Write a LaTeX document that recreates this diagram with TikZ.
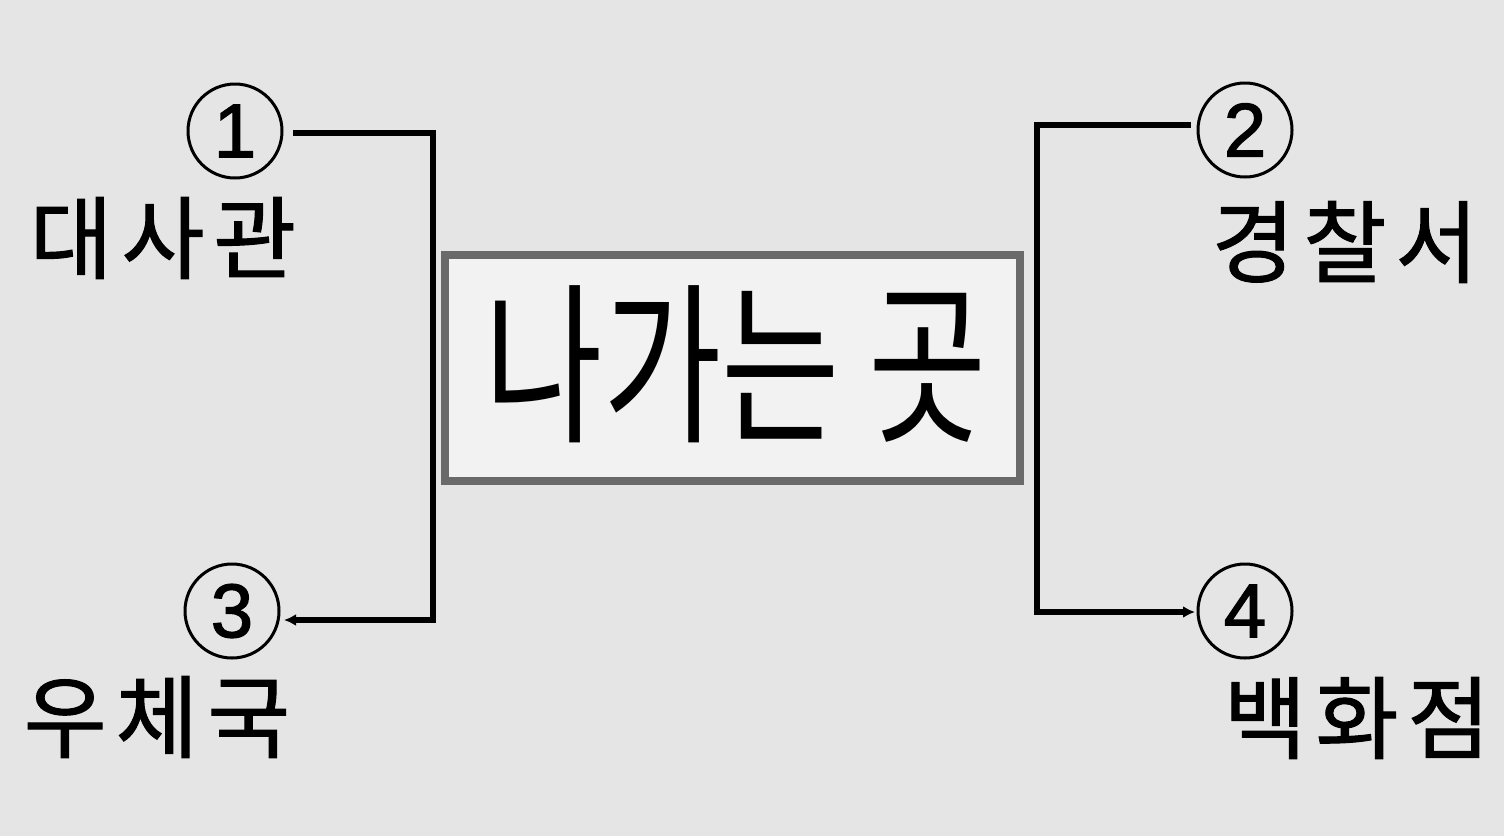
\documentclass[tikz,border=0pt]{standalone}
\usepackage{fontspec}
\newfontfamily\kr{Noto Sans CJK KR}
\newfontfamily\krlab{Noto Sans CJK KR}[LetterSpace=10,FakeBold=1.2]
\newfontfamily\num{Liberation Sans}[FakeBold=1.8]
\usetikzlibrary{arrows.meta}
\definecolor{bg}{HTML}{E5E5E5}
\definecolor{boxfill}{HTML}{F2F2F2}
\definecolor{boxline}{HTML}{6A6A6A}
\tikzset{
  numc/.style={circle,draw=black,line width=3pt,minimum size=94pt,inner sep=0pt,font=\num\fontsize{76}{80}\selectfont},
  lab/.style={inner sep=0pt,font=\krlab\fontsize{90}{100}\selectfont},
  conn/.style={line width=6.5pt,black,line cap=rect},
  tip/.style={-{Latex[length=12pt,width=12pt]}}
}
\begin{document}
\begin{tikzpicture}[x=1pt,y=-1pt]
\fill[bg] (0,0) rectangle (1504,836);
\useasboundingbox (0,0) rectangle (1504,836);
% center box
\node[draw=boxline,fill=boxfill,line width=8pt,minimum width=575pt,minimum height=226pt,inner sep=0pt] (box) at (732.5,367.5) {};
\node[inner sep=0pt,font=\kr\fontsize{174}{180}\selectfont,xscale=0.74] (title) at (736,364) {나가는 곳};
% circled numbers
\node[numc] (c1) at (235,131) {1};
\node[numc] (c2) at (1245,130) {2};
\node[numc] (c3) at (232,611) {3};
\node[numc] (c4) at (1245,611) {4};
% labels
\node[lab] (l1) at (163,238) {대사관};
\node[lab] (l2) at (1345,242) {경찰서};
\node[lab] (l3) at (157,717) {우체국};
\node[lab] (l4) at (1357,718) {백화점};
% connectors
\coordinate (k1) at (433,133);
\coordinate (k3) at (433,620);
\coordinate (s1) at (296,133);
\coordinate (e3) at (284,620);
\coordinate (k2) at (1037,125);
\coordinate (k4) at (1037,612);
\coordinate (s2) at (1188,125);
\coordinate (e4) at (1195,612);
\draw[conn,tip] (s1) -- (k1) -- (k3) -- (e3);
\draw[conn,tip] (s2) -- (k2) -- (k4) -- (e4);
\end{tikzpicture}
\end{document}
